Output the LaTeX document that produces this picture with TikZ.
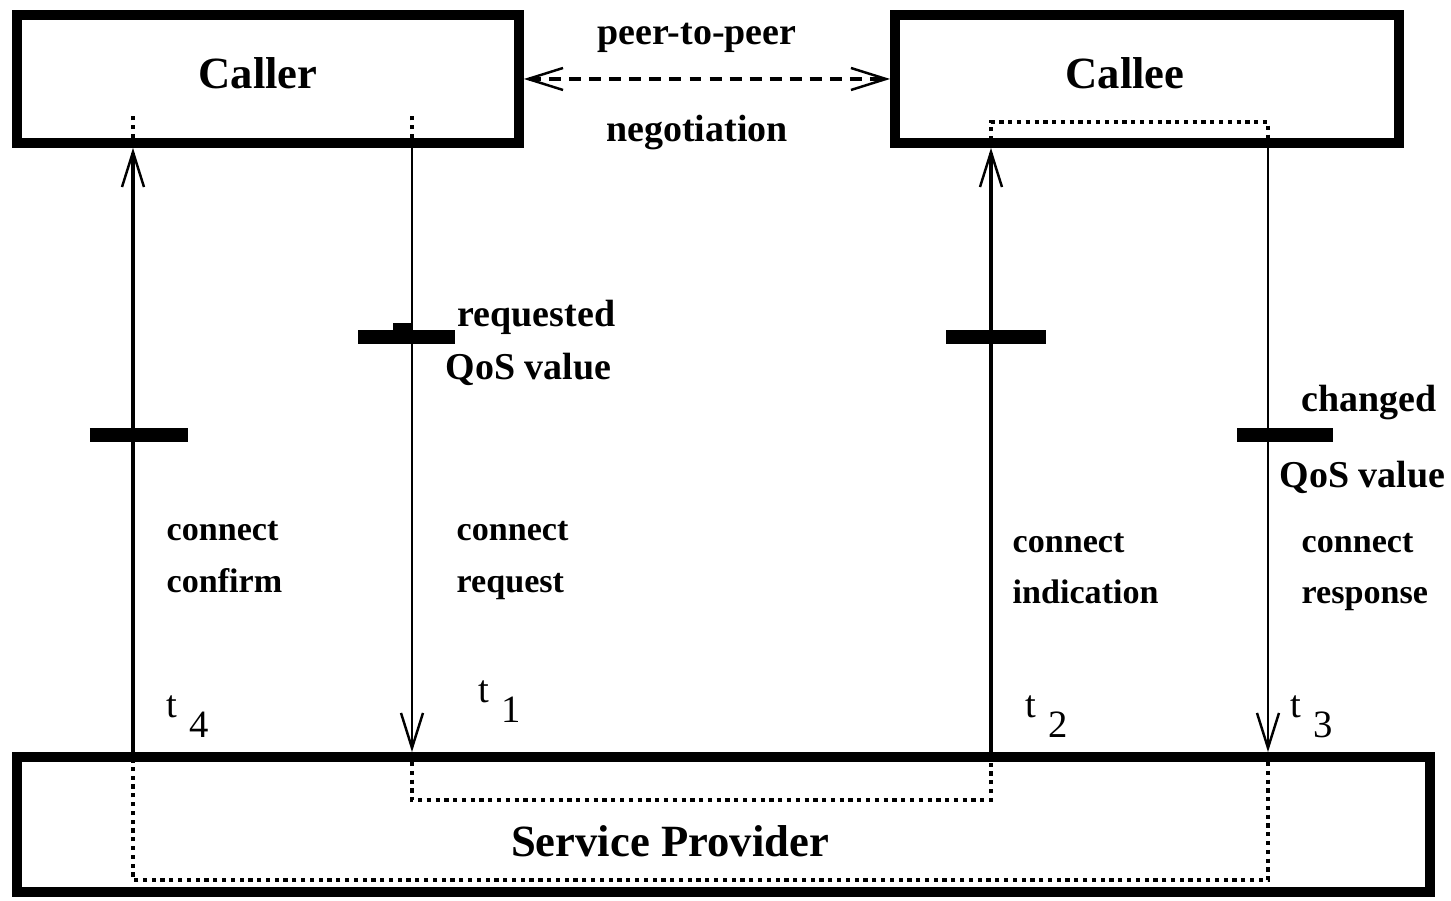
\documentclass[tikz,border=0pt]{standalone}
\usepackage{fontspec}
\setmainfont{Liberation Serif}
\usetikzlibrary{arrows.meta}
\tikzset{
  box/.style={draw, line width=2.8pt, inner sep=0pt},
  big/.style={anchor=base, inner sep=0pt, font=\bfseries\fontsize{12.7}{14}\selectfont},
  lbl/.style={anchor=base west, inner sep=0pt, font=\bfseries\fontsize{10.8}{12}\selectfont},
  small/.style={anchor=base west, inner sep=0pt, font=\bfseries\fontsize{9.7}{11}\selectfont},
  tlbl/.style={anchor=base west, inner sep=0pt, font=\fontsize{11}{12}\selectfont},
  tip/.style={-{Straight Barb[length=3.5mm,width=2.2mm,line width=0.7pt]}},
  flow/.style={line width=1.4pt, tip},
  req/.style={line width=0.6pt, tip},
  peer/.style={line width=1.1pt, dash pattern=on 3.4pt off 2.3pt,
    {Straight Barb[length=3.5mm,width=2.2mm,line width=0.7pt]}-{Straight Barb[length=3.5mm,width=2.2mm,line width=0.7pt]}},
  trace/.style={line width=1pt, dash pattern=on 1.2pt off 1.3pt},
  bar/.style={line width=4pt}
}
\newcommand{\tmark}[1]{t\kern1.2mm\raisebox{-2mm}{#1}}
\begin{document}
\begin{tikzpicture}
        \useasboundingbox (0,0) rectangle (14.51,9.01);
        \node[box, minimum width=5.02cm, minimum height=1.28cm] (caller) at (2.68,8.22) {};
        \node[box, minimum width=5.04cm, minimum height=1.28cm] (callee) at (11.47,8.22) {};
        \node[box, minimum width=14.13cm, minimum height=1.35cm] (sp) at (7.235,0.765) {};
        \node[big] (callername) at (2.58,8.12) {Caller};
        \node[big] (calleename) at (11.25,8.12) {Callee};
        \node[big] (spname) at (6.70,0.44) {Service Provider};
        \coordinate (cf) at (1.33,0);
        \coordinate (rq) at (4.12,0);
        \coordinate (ind) at (9.91,0);
        \coordinate (rsp) at (12.68,0);
        \draw[peer] (caller.east) -- (callee.west);
        \node[lbl, anchor=base] (peer) at (6.97,8.56) {peer-to-peer};
        \node[lbl, anchor=base] (nego) at (6.97,7.59) {negotiation};
        \draw[flow] (sp.north -| cf) -- (caller.south -| cf);
        \draw[req] (caller.south -| rq) -- (sp.north -| rq);
        \draw[flow] (sp.north -| ind) -- (callee.south -| ind);
        \draw[req] (callee.south -| rsp) -- (sp.north -| rsp);
        \draw[trace] (1.33,7.63) -- (1.33,7.89);
        \draw[trace] (4.12,7.63) -- (4.12,7.86);
        \draw[trace] (9.91,7.61) -- (9.91,7.79) -- (12.68,7.79) -- (12.68,7.61);
        \draw[trace] (4.12,1.39) -- (4.12,1.01) -- (9.91,1.01) -- (9.91,1.39);
        \draw[trace] (12.68,1.39) -- (12.68,0.21) -- (1.33,0.21) -- (1.33,1.39);
        \draw[bar] (0.90,4.66) -- (1.88,4.66);
        \draw[bar] (3.58,5.64) -- (4.55,5.64);
        \fill (3.93,5.64) rectangle (4.12,5.78);
        \draw[bar] (9.46,5.64) -- (10.46,5.64);
        \draw[bar] (12.37,4.66) -- (13.33,4.66);
        \node[lbl] (reqval) at (4.57,5.74) {requested};
        \node[lbl] (reqqos) at (4.45,5.21) {QoS value};
        \node[lbl] (chval) at (13.01,4.89) {changed};
        \node[lbl] (chqos) at (12.79,4.13) {QoS value};
        \node[small] (cf1) at (1.66,3.60) {connect};
        \node[small] (cf2) at (1.66,3.08) {confirm};
        \node[small] (rq1) at (4.56,3.60) {connect};
        \node[small] (rq2) at (4.56,3.08) {request};
        \node[small] (ind1) at (10.12,3.48) {connect};
        \node[small] (ind2) at (10.12,2.97) {indication};
        \node[small] (rsp1) at (13.01,3.48) {connect};
        \node[small] (rsp2) at (13.01,2.97) {response};
        \node[tlbl] (t4) at (1.66,1.83) {\tmark{4}};
        \node[tlbl] (t1) at (4.78,1.98) {\tmark{1}};
        \node[tlbl] (t2) at (10.25,1.83) {\tmark{2}};
        \node[tlbl] (t3) at (12.90,1.83) {\tmark{3}};
\end{tikzpicture}
\end{document}
